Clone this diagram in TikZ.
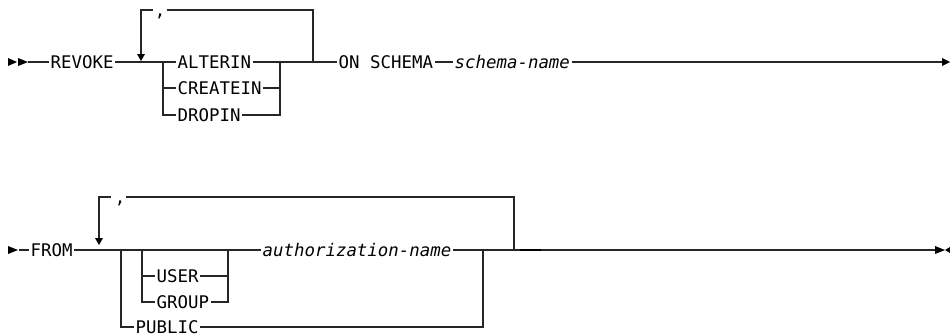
\documentclass[tikz,border=0pt]{standalone}
\usepackage{fontspec}
\newfontfamily\diag{DejaVu Sans Mono}
\begin{document}
\begin{tikzpicture}[x=1pt,y=-1pt,
  lbl/.style={font=\diag\fontsize{17.4}{20}\selectfont, inner xsep=1.5pt, inner ysep=0pt, text height=12.7pt, text depth=0pt, anchor=west},
  sep/.style={font=\diag\fontsize{17.4}{20}\selectfont, inner sep=0pt, anchor=base},
  rr/.style={line width=1.1pt, draw=black!85},
  tri/.style={fill=black, draw=none}]
\useasboundingbox (0,0) rectangle (950,335);
% ---------- row 1 ----------
\node[lbl] (revoke) at (49,62) {REVOKE};
\node[lbl] (alterin) at (176,62) {ALTERIN};
\node[lbl] (createin) at (176,88) {CREATEIN};
\node[lbl] (dropin) at (176,115) {DROPIN};
\node[lbl] (onschema) at (337,62) {ON SCHEMA};
\node[lbl] (schema) at (453,62) {\itshape schema-name};
\node[sep] (c1) at (160,16) {,};
\coordinate (s1) at (28,62);
\coordinate (j1) at (163,62);
\coordinate (k1) at (280,62);
\coordinate (r1) at (313,62);
\coordinate (r1t) at (313,10);
\coordinate (a1t) at (141,10);
\coordinate (a1b) at (141,54);
\coordinate (g1a) at (153,10);
\coordinate (g1b) at (167,10);
\coordinate (e1) at (942,62);
% start arrows
\fill[tri] (8,58) -- (17,62) -- (8,66) -- cycle;
\fill[tri] (18,58) -- (28,62) -- (18,66) -- cycle;
\draw[rr] (s1) -- (revoke.west);
\draw[rr] (revoke.east) -- (j1);
\draw[rr] (j1) -- (alterin.west);
\draw[rr] (j1) |- (dropin.west);
\draw[rr] (j1 |- createin.west) -- (createin.west);
\draw[rr] (alterin.east) -- (k1);
\draw[rr] (dropin.east) -| (k1);
\draw[rr] (createin.east) -- (k1 |- createin.west);
\draw[rr] (k1) -- (onschema.west);
\draw[rr] (r1) -- (r1t) -- (g1b);
\draw[rr] (g1a) -- (a1t) -- (a1b);
\fill[tri] (137,54) -- (145,54) -- (141,61) -- cycle;
\draw[rr] (onschema.east) -- (schema.west);
\draw[rr] (schema.east) -- (e1);
\fill[tri] (942,58) -- (950,62) -- (942,66) -- cycle;
% ---------- row 2 ----------
\node[lbl] (from) at (29,250) {FROM};
\node[lbl] (user) at (155,276) {USER};
\node[lbl] (group) at (155,302) {GROUP};
\node[lbl] (public) at (134,327) {PUBLIC};
\node[lbl] (auth) at (261,250) {\itshape authorization-name};
\node[sep] (c2) at (120,203) {,};
\coordinate (s2) at (19,250);
\coordinate (j2) at (121,250);
\coordinate (j3) at (142,250);
\coordinate (k3) at (228,250);
\coordinate (k2) at (483,250);
\coordinate (r2) at (514,250);
\coordinate (r2t) at (514,197);
\coordinate (a2t) at (99,197);
\coordinate (a2b) at (99,238);
\coordinate (g2a) at (111,197);
\coordinate (g2b) at (126,197);
\coordinate (e2) at (935,250);
\fill[tri] (8,246) -- (18,250) -- (8,254) -- cycle;
\draw[rr] (s2) -- (from.west);
\draw[rr] (from.east) -- (j2);
\draw[rr] (j2) -- (j3);
\draw[rr] (j2) |- (public.west);
\draw[rr] (j3) -- (k3);
\draw[rr] (j3) |- (group.west);
\draw[rr] (j3 |- user.west) -- (user.west);
\draw[rr] (user.east) -- (k3 |- user.west);
\draw[rr] (group.east) -| (k3);
\draw[rr] (k3) -- (auth.west);
\draw[rr] (auth.east) -- (k2);
\draw[rr] (public.east) -| (k2);
\draw[rr] (k2) -- (r2);
\draw[rr] (r2) -- (r2t) -- (g2b);
\draw[rr] (g2a) -- (a2t) -- (a2b);
\fill[tri] (95,238) -- (103,238) -- (99,245) -- cycle;
\draw[rr] (r2) -- (e2);
\draw[line width=2pt] (520,250) -- (541,250);
\fill[tri] (935,246) -- (945,250) -- (935,254) -- cycle;
\fill[tri] (950,247) -- (945,250) -- (950,253) -- cycle;
\end{tikzpicture}
\end{document}
